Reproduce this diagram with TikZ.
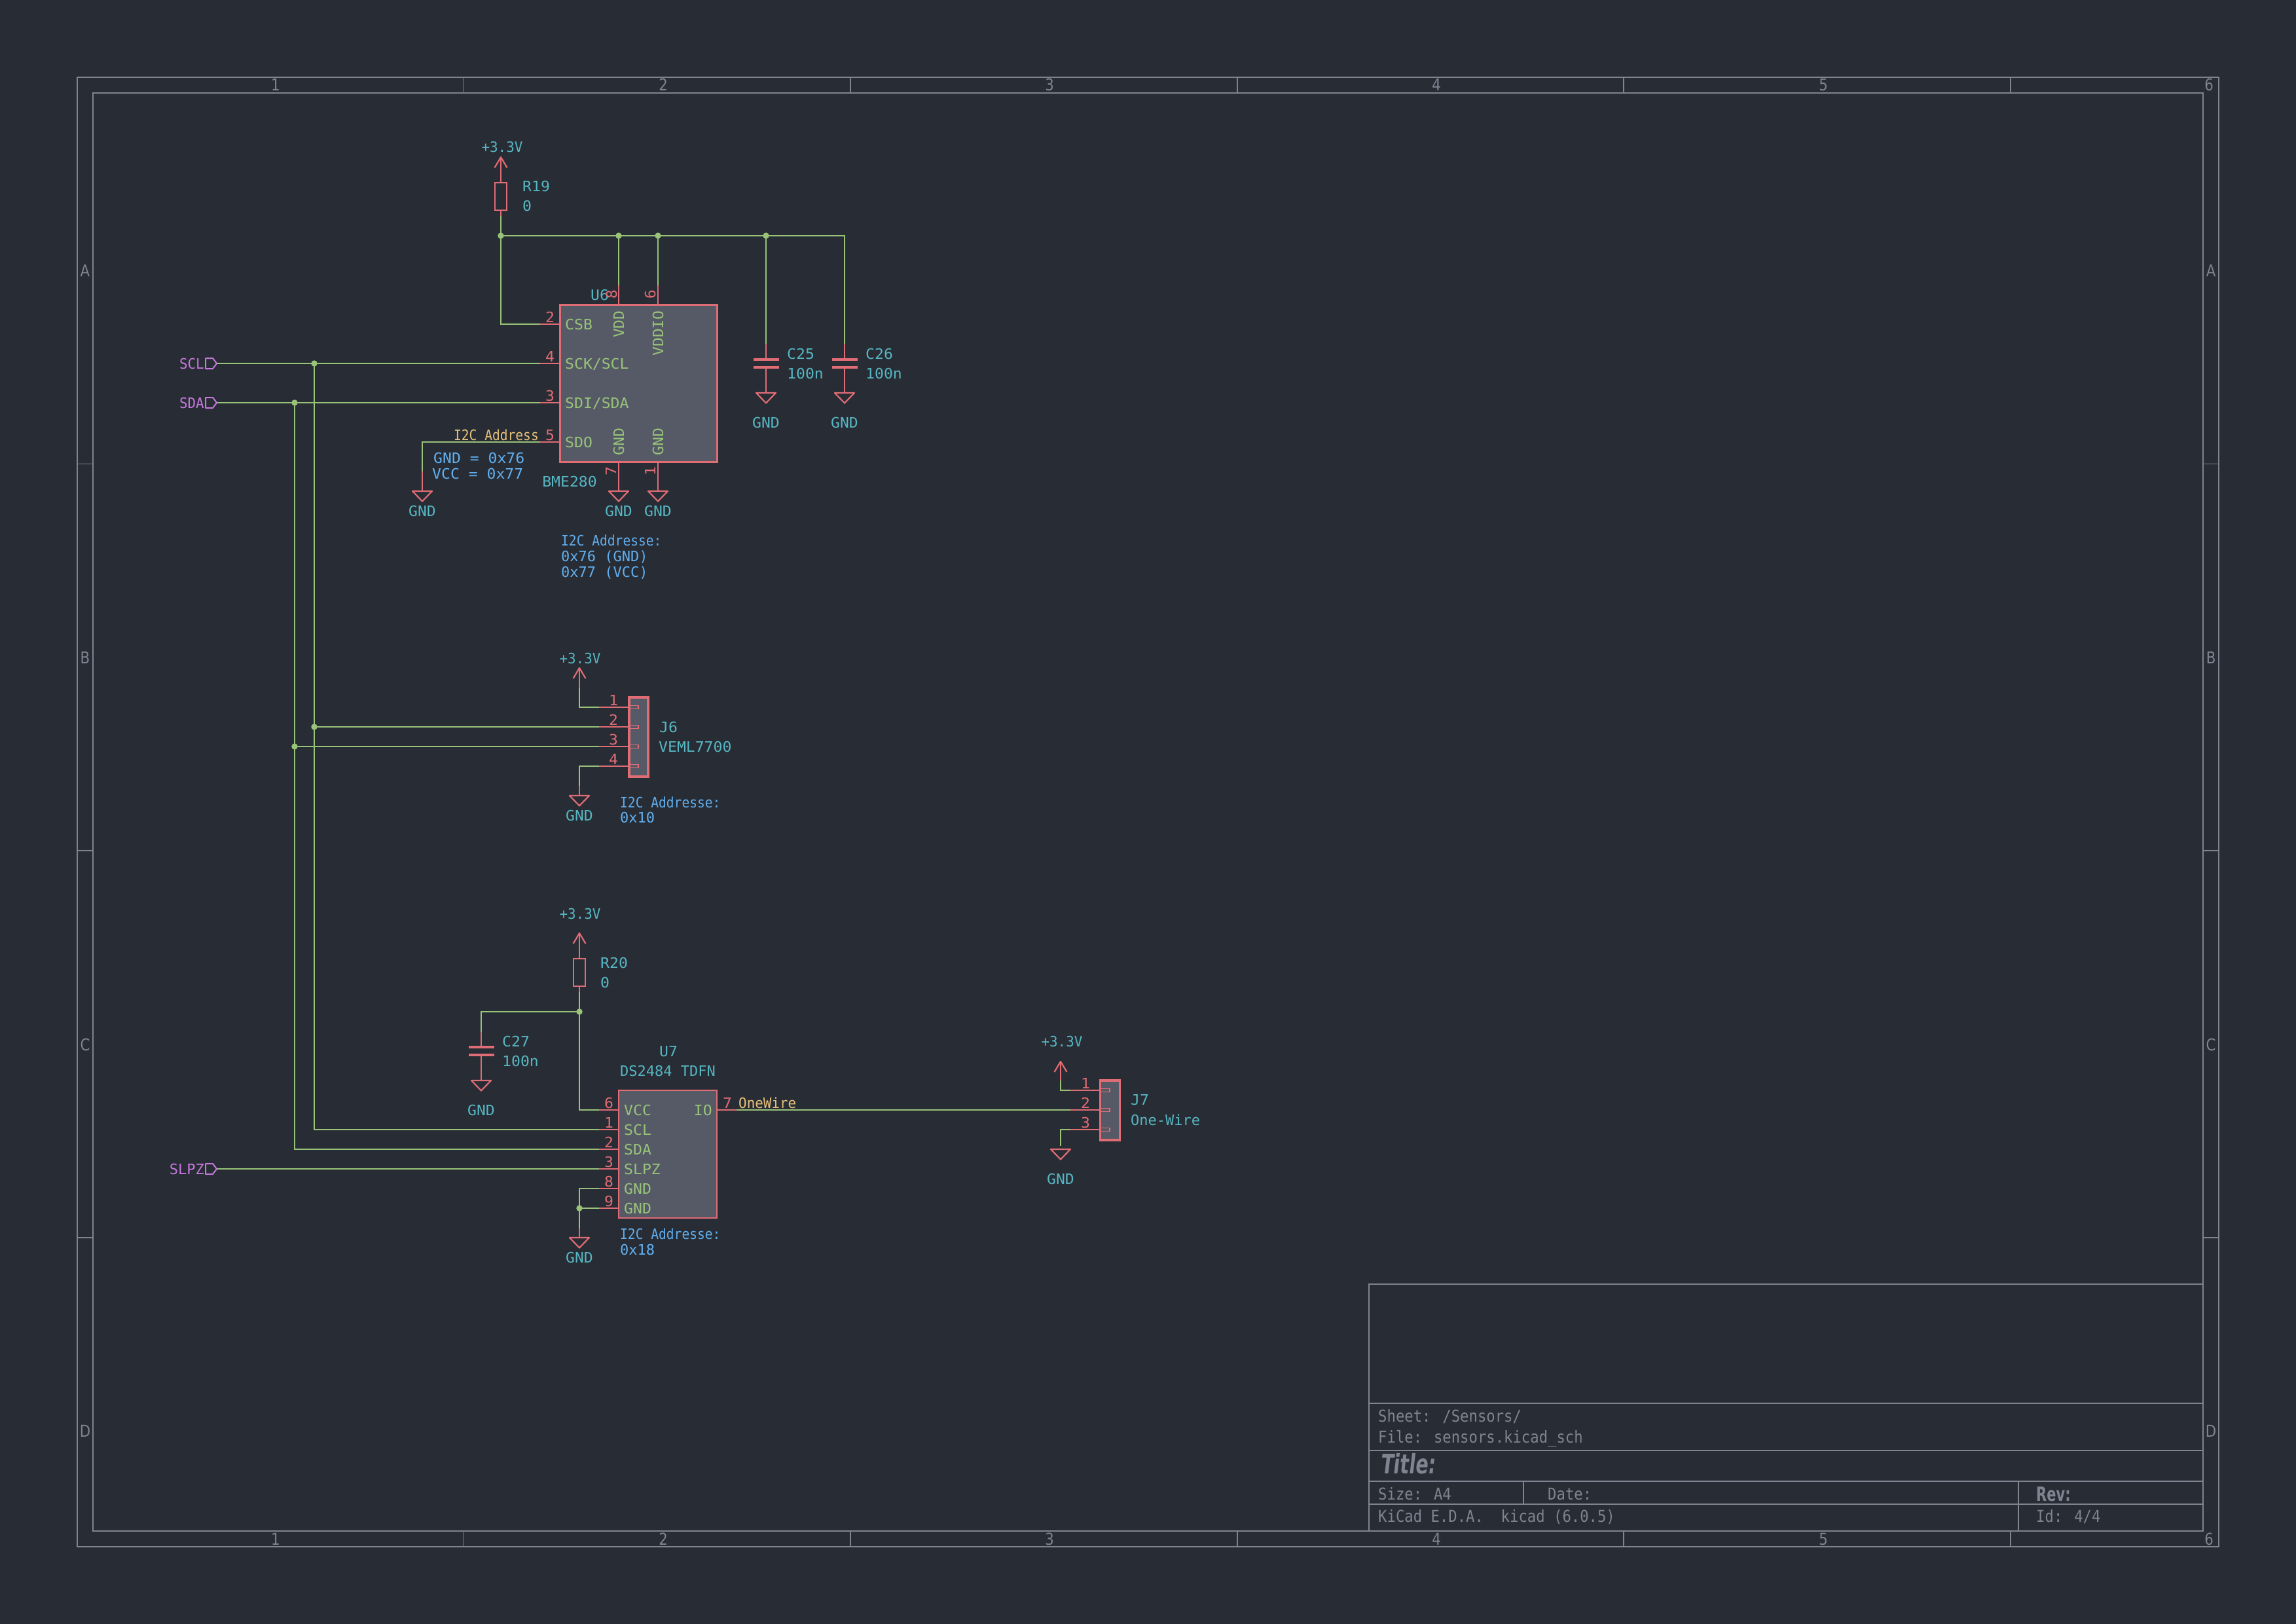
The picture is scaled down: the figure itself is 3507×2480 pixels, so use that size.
\documentclass[tikz,border=0pt]{standalone}
\usepackage{fontspec}
\setmainfont{DejaVu Sans}
\newfontface\schfont[FakeStretch=1.05]{DejaVu Sans Mono}
\newfontface\schnarrow[FakeStretch=0.95]{DejaVu Sans Mono}
\newfontface\schnote[FakeStretch=1.0]{DejaVu Sans Mono}
\newfontface\schtight[FakeStretch=0.89]{DejaVu Sans Mono}
\newfontface\tbfont[FakeStretch=0.89]{DejaVu Sans Mono}
\newfontface\tbnum[FakeStretch=0.85]{DejaVu Sans}
\newfontface\tbbold[FakeStretch=0.7]{DejaVu Sans Bold}
\newfontface\tbtitle[FakeStretch=0.7,FakeSlant=0.12]{DejaVu Sans Bold}
\definecolor{bg}{HTML}{282C34}
\definecolor{frm}{HTML}{7F8491}
\definecolor{pinred}{HTML}{E06C75}
\definecolor{wirecol}{HTML}{98C379}
\definecolor{refcol}{HTML}{56B6C2}
\definecolor{notecol}{HTML}{61AFEF}
\definecolor{hiercol}{HTML}{C678DD}
\definecolor{netcol}{HTML}{E5C07B}
\definecolor{bodyfill}{HTML}{565A66}
\tikzset{
  x=1pt,y=-1pt,
  lab/.style={inner sep=0pt,text height=16pt,text depth=0pt,font=\fontsize{22}{24}\selectfont\schfont},
  labn/.style={font=\fontsize{22}{24}\selectfont\schnarrow},
  labm/.style={font=\fontsize{22}{24}\selectfont\schnote},
  labt/.style={font=\fontsize{22}{24}\selectfont\schtight},
  reft/.style={lab,text=refcol},
  pint/.style={lab,text=pinred},
  namet/.style={lab,text=wirecol},
  notet/.style={lab,text=notecol},
  hiert/.style={lab,labn,text=hiercol},
  nett/.style={lab,labn,text=netcol},
  frmt/.style={inner sep=0pt,text height=18pt,text depth=0pt,text=frm,font=\fontsize{25}{28}\selectfont\tbfont},
  frmb/.style={inner sep=0pt,text height=22pt,text depth=0pt,text=frm,font=\fontsize{30}{34}\selectfont\tbbold},
  frmh/.style={inner sep=0pt,text height=30pt,text depth=0pt,text=frm,font=\fontsize{41}{44}\selectfont\tbtitle},
  frmn/.style={inner sep=0pt,text height=18pt,text depth=0pt,text=frm,font=\fontsize{25}{28}\selectfont\tbnum},
  frame/.style={draw=frm,line width=1.6pt},
  wire/.style={draw=wirecol,line width=2pt},
  pinl/.style={draw=pinred,line width=2pt},
  sym/.style={draw=pinred,line width=2.2pt},
  icbox/.style={draw=pinred,fill=bodyfill,line width=3pt,inner sep=0pt},
  jbox/.style={draw=pinred,fill=bodyfill,line width=3.6pt,inner sep=0pt},
  resbox/.style={draw=pinred,line width=2.4pt,inner sep=0pt,minimum width=18pt},
  junc/.style={circle,fill=wirecol,inner sep=0pt,minimum size=9.5pt},
  plate/.style={draw=pinred,line width=4.4pt},
}
\newcommand{\pwrsym}[3]{% name, x, tip y
  \coordinate (#1) at (#2,#3);
  \draw[sym,line join=round] (#2-9.5,#3+16) -- (#1) -- (#2+9.5,#3+16);}
\newcommand{\gndsym}[3]{% name, x, top y
  \coordinate (#1) at (#2,#3);
  \draw[sym,line join=round] (#2-15,#3) -- (#2+15,#3) -- (#2,#3+15.5) -- cycle;}
\newcommand{\hierflag}[2]{% tip x, y
  \draw[draw=hiercol,line width=2pt,line join=round] (#1-17,#2-8) -- (#1-6,#2-8) -- (#1,#2) -- (#1-6,#2+8) -- (#1-17,#2+8) -- cycle;}
\newcommand{\conpin}[2]{% stub of a connector pin: box left x, y
  \draw[draw=pinred,line width=1.3pt] (#1,#2-2.3) rectangle (#1+14,#2+2.3);}
\begin{document}
\begin{tikzpicture}
\useasboundingbox (0,0) rectangle (3507,2480);
\fill[bg] (0,0) rectangle (3507,2480);

% ---------- sheet frame
\draw[frame] (118,118) rectangle (3389,2362);
\draw[frame] (142,142) rectangle (3365,2338);
\foreach \xx in {708.6,1299,1889.8,2480,3071}{
  \draw[frame] (\xx,118) -- (\xx,142);
  \draw[frame] (\xx,2338) -- (\xx,2362);}
\foreach \yy in {708.6,1299,1889.8}{
  \draw[frame] (118,\yy) -- (142,\yy);
  \draw[frame] (3365,\yy) -- (3389,\yy);}
\foreach \xx/\tt/\nm in {421/1/a,1013/2/b,1603/3/c,2194/4/d,2785/5/e,3374/6/f}{
  \node[frmn] (ct\nm) at (\xx,130) {\tt};
  \node[frmn] (cb\nm) at (\xx,2350) {\tt};}
\foreach \yy/\tt in {413/A,1004/B,1595/C,2185/D}{
  \node[frmn] (rl\tt) at (130,\yy) {\tt};
  \node[frmn] (rr\tt) at (3377,\yy) {\tt};}

% ---------- title block
\draw[frame] (2091,2338) -- (2091,1961) -- (3365,1961);
\draw[frame] (2091,2143) -- (3365,2143);
\draw[frame] (2091,2215) -- (3365,2215);
\draw[frame] (2091,2262) -- (3365,2262);
\draw[frame] (2091,2297) -- (3365,2297);
\draw[frame] (2327,2262) -- (2327,2297);
\draw[frame] (3083,2262) -- (3083,2338);
\node[frmt,anchor=west] (tbsheet) at (2105,2162) {Sheet: /Sensors/};
\node[frmt,anchor=west] (tbfile) at (2105,2194) {File: sensors.kicad\_sch};
\node[frmh,anchor=west] (tbtitle) at (2108,2235) {Title:};
\node[frmt,anchor=west] (tbsize) at (2105,2281) {Size: A4};
\node[frmt,anchor=west] (tbdate) at (2364,2281) {Date:};
\node[frmb,anchor=west] (tbrev) at (3110,2281) {Rev:};
\node[frmt,anchor=west] (tbkicad) at (2105,2315) {KiCad E.D.A.\ \ kicad (6.0.5)};
\node[frmt,anchor=west] (tbid) at (3110,2315) {Id: 4/4};

% ---------- named points
\coordinate (wR19top) at (765,330);
\coordinate (jA) at (765,360);
\coordinate (jB) at (945,360);
\coordinate (jC) at (1005,360);
\coordinate (jD) at (1170,360);
\coordinate (cr26) at (1290,360);
\coordinate (u6p2) at (825,495);
\coordinate (csbc) at (765,495);
\coordinate (u6p8) at (945,436);
\coordinate (u6p6) at (1005,436);
\coordinate (c25t) at (1170,525);
\coordinate (c26t) at (1290,525);
\coordinate (sclstart) at (331,555);
\coordinate (sdastart) at (331,615);
\coordinate (slpstart) at (331,1785);
\coordinate (jscl) at (480,555);
\coordinate (jsda) at (450,615);
\coordinate (u6p4) at (825,555);
\coordinate (u6p3) at (825,615);
\coordinate (u6p5) at (825,675);
\coordinate (sdoc) at (645,675);
\coordinate (sdoe) at (645,720);
\coordinate (jscl2) at (480,1110);
\coordinate (jsda2) at (450,1140);
\coordinate (j6p1) at (915,1080);
\coordinate (j6p2) at (915,1110);
\coordinate (j6p3) at (915,1140);
\coordinate (j6p4) at (915,1170);
\coordinate (j6c1) at (885,1080);
\coordinate (j6c4) at (885,1170);
\coordinate (j6up) at (885,1050);
\coordinate (j6dn) at (885,1200);
\coordinate (r20b) at (885,1515);
\coordinate (jR20) at (885,1545);
\coordinate (c27c) at (735,1545);
\coordinate (c27t) at (735,1576);
\coordinate (u7p6) at (915,1695);
\coordinate (u7c6) at (885,1695);
\coordinate (u7p1) at (915,1725);
\coordinate (u7c1) at (480,1725);
\coordinate (u7p2) at (915,1755);
\coordinate (u7c2) at (450,1755);
\coordinate (u7p3) at (915,1785);
\coordinate (u7p8) at (915,1815);
\coordinate (u7c8) at (885,1815);
\coordinate (u7p9) at (915,1845);
\coordinate (jG) at (885,1845);
\coordinate (u7g) at (885,1876);
\coordinate (u7p7) at (1125,1695);
\coordinate (j7p1) at (1635,1665);
\coordinate (j7c1) at (1620,1665);
\coordinate (j7up) at (1620,1650);
\coordinate (j7p2) at (1635,1695);
\coordinate (j7p3) at (1635,1725);
\coordinate (j7c3) at (1620,1725);
\coordinate (j7dn) at (1620,1750);

% ---------- component bodies
\node[icbox,minimum width=240pt,minimum height=240pt] (u6) at (975,585) {};
\node[icbox,line width=2.4pt,minimum width=150pt,minimum height=195pt] (u7) at (1020,1762.5) {};
\node[jbox,minimum width=29pt,minimum height=121pt] (j6) at (975.5,1125.5) {};
\node[jbox,minimum width=30pt,minimum height=91pt] (j7) at (1695.5,1695.5) {};
\node[resbox,minimum height=42pt] (r19) at (765,300) {};
\node[resbox,minimum height=42pt] (r20) at (885,1485) {};

% ---------- power and ground symbols
\pwrsym{pR19}{765}{240}
\pwrsym{pJ6}{885}{1020}
\pwrsym{pR20}{885}{1425}
\pwrsym{pJ7}{1620}{1621}
\gndsym{gSDO}{645}{750}
\gndsym{gU6a}{945}{750}
\gndsym{gU6b}{1005}{750}
\gndsym{gC25}{1170}{600}
\gndsym{gC26}{1290}{600}
\gndsym{gJ6}{885}{1215}
\gndsym{gC27}{735}{1650}
\gndsym{gU7}{885}{1890}
\gndsym{gJ7}{1620}{1755}

% ---------- pins and symbol stems
\draw[pinl] (pR19) -- (r19.north);
\draw[pinl] (r19.south) -- (wR19top);
\draw[pinl] (pR20) -- (r20.north);
\draw[pinl] (r20.south) -- (r20b);
\draw[pinl] (pJ6) -- (j6up);
\draw[pinl] (pJ7) -- (j7up);
\draw[pinl] (u6p2) -- (u6p2-|u6.west);
\draw[pinl] (u6p4) -- (u6p4-|u6.west);
\draw[pinl] (u6p3) -- (u6p3-|u6.west);
\draw[pinl] (u6p5) -- (u6p5-|u6.west);
\draw[pinl] (u6p8) -- (u6p8|-u6.north);
\draw[pinl] (u6p6) -- (u6p6|-u6.north);
\draw[pinl] (gU6a) -- (gU6a|-u6.south);
\draw[pinl] (gU6b) -- (gU6b|-u6.south);
\draw[pinl] (sdoe) -- (gSDO);
\draw[pinl] (c25t) -- (1170,549);
\draw[pinl] (1170,561) -- (gC25);
\draw[pinl] (c26t) -- (1290,549);
\draw[pinl] (1290,561) -- (gC26);
\draw[plate] (1150.5,549) -- (1189.5,549);
\draw[plate] (1150.5,561) -- (1189.5,561);
\draw[plate] (1270.5,549) -- (1309.5,549);
\draw[plate] (1270.5,561) -- (1309.5,561);
\draw[pinl] (c27t) -- (735,1599);
\draw[pinl] (735,1611) -- (gC27);
\draw[plate] (715.5,1599) -- (754.5,1599);
\draw[plate] (715.5,1611) -- (754.5,1611);
\draw[pinl] (j6dn) -- (gJ6);
\draw[pinl] (u7g) -- (gU7);
\draw[pinl] (j6p1) -- (j6p1-|j6.west);
\draw[pinl] (j6p2) -- (j6p2-|j6.west);
\draw[pinl] (j6p3) -- (j6p3-|j6.west);
\draw[pinl] (j6p4) -- (j6p4-|j6.west);
\conpin{961}{1080}\conpin{961}{1110}\conpin{961}{1140}\conpin{961}{1170}
\draw[pinl] (j7p1) -- (j7p1-|j7.west);
\draw[pinl] (j7p2) -- (j7p2-|j7.west);
\draw[pinl] (j7p3) -- (j7p3-|j7.west);
\conpin{1681}{1665}\conpin{1681}{1695}\conpin{1681}{1725}
\draw[pinl] (u7p6) -- (u7p6-|u7.west);
\draw[pinl] (u7p1) -- (u7p1-|u7.west);
\draw[pinl] (u7p2) -- (u7p2-|u7.west);
\draw[pinl] (u7p3) -- (u7p3-|u7.west);
\draw[pinl] (u7p8) -- (u7p8-|u7.west);
\draw[pinl] (u7p9) -- (u7p9-|u7.west);
\draw[pinl] (u7p7) -- (u7p7-|u7.east);

% ---------- wires
\draw[wire] (wR19top) -- (jA) -- (jB) -- (jC) -- (jD) -- (cr26) -- (c26t);
\draw[wire] (jA) -- (csbc) -- (u6p2);
\draw[wire] (jB) -- (u6p8);
\draw[wire] (jC) -- (u6p6);
\draw[wire] (jD) -- (c25t);
\draw[wire] (sclstart) -- (u6p4);
\draw[wire] (sdastart) -- (u6p3);
\draw[wire] (u6p5) -- (sdoc) -- (sdoe);
\draw[wire] (jscl) -- (u7c1) -- (u7p1);
\draw[wire] (jsda) -- (u7c2) -- (u7p2);
\draw[wire] (jscl2) -- (j6p2);
\draw[wire] (jsda2) -- (j6p3);
\draw[wire] (j6up) -- (j6c1) -- (j6p1);
\draw[wire] (j6p4) -- (j6c4) -- (j6dn);
\draw[wire] (r20b) -- (u7c6) -- (u7p6);
\draw[wire] (jR20) -- (c27c) -- (c27t);
\draw[wire] (slpstart) -- (u7p3);
\draw[wire] (u7p8) -- (u7c8) -- (u7g);
\draw[wire] (jG) -- (u7p9);
\draw[wire] (u7p7) -- (j7p2);
\draw[wire] (j7up) -- (j7c1) -- (j7p1);
\draw[wire] (j7p3) -- (j7c3) -- (j7dn);

% ---------- junction dots
\node[junc] (dA) at (jA) {};
\node[junc] (dB) at (jB) {};
\node[junc] (dC) at (jC) {};
\node[junc] (dD) at (jD) {};
\node[junc] (dS1) at (jscl) {};
\node[junc] (dS2) at (jsda) {};
\node[junc] (dS3) at (jscl2) {};
\node[junc] (dS4) at (jsda2) {};
\node[junc] (dR) at (jR20) {};
\node[junc] (dG) at (jG) {};

% ---------- hierarchical labels
\hierflag{331}{555}
\hierflag{331}{615}
\hierflag{331}{1785}
\node[hiert,anchor=east] (hSCL) at (312,555) {SCL};
\node[hiert,anchor=east] (hSDA) at (312,615) {SDA};
\node[hiert,labm,anchor=east] (hSLPZ) at (312,1785) {SLPZ};

% ---------- power labels
\node[reft,labn] (l33a) at (767,225) {+3.3V};
\node[reft,labn] (l33b) at (886,1005) {+3.3V};
\node[reft,labn] (l33c) at (886,1395) {+3.3V};
\node[reft,labn] (l33d) at (1622,1590) {+3.3V};
\node[reft] (lgSDO) at (645,780) {GND};
\node[reft] (lgU6a) at (945,780) {GND};
\node[reft] (lgU6b) at (1005,780) {GND};
\node[reft] (lgC25) at (1170,645) {GND};
\node[reft] (lgC26) at (1290,645) {GND};
\node[reft] (lgJ6) at (885,1245) {GND};
\node[reft] (lgC27) at (735,1695) {GND};
\node[reft] (lgU7) at (885,1920) {GND};
\node[reft] (lgJ7) at (1620,1800) {GND};

% ---------- references and values
\node[reft,anchor=west] (tR19) at (798,285) {R19};
\node[reft,anchor=west] (vR19) at (798,315) {0};
\node[reft,anchor=west] (tR20) at (917,1470) {R20};
\node[reft,anchor=west] (vR20) at (917,1500) {0};
\node[reft,anchor=west] (tC25) at (1202,540) {C25};
\node[reft,anchor=west] (vC25) at (1202,570) {100n};
\node[reft,anchor=west] (tC26) at (1322,540) {C26};
\node[reft,anchor=west] (vC26) at (1322,570) {100n};
\node[reft,anchor=west] (tC27) at (767,1590) {C27};
\node[reft,anchor=west] (vC27) at (767,1620) {100n};
\node[reft] (tU6) at (916,450) {U6};
\node[reft] (vU6) at (870,735) {BME280};
\node[reft] (tU7) at (1021,1605) {U7};
\node[reft,labm] (vU7) at (1020,1635) {DS2484 TDFN};
\node[reft,anchor=west] (tJ6) at (1007,1110) {J6};
\node[reft,anchor=west] (vJ6) at (1006,1140) {VEML7700};
\node[reft,anchor=west] (tJ7) at (1727,1679) {J7};
\node[reft,labm,anchor=west] (vJ7) at (1727,1710) {One-Wire};

% ---------- pin names
\node[namet,anchor=west] (nCSB) at (863,495) {CSB};
\node[namet,anchor=west] (nSCK) at (863,555) {SCK/SCL};
\node[namet,anchor=west] (nSDI) at (863,615) {SDI/SDA};
\node[namet,anchor=west] (nSDO) at (863,675) {SDO};
\node[namet,rotate=90,anchor=east] (nVDD) at (945,474) {VDD};
\node[namet,rotate=90,anchor=east] (nVDDIO) at (1005,474) {VDDIO};
\node[namet,rotate=90,anchor=west] (nG7) at (945,696) {GND};
\node[namet,rotate=90,anchor=west] (nG1) at (1005,696) {GND};
\node[namet,anchor=west] (nVCC) at (953,1695) {VCC};
\node[namet,anchor=west] (nSCL) at (953,1725) {SCL};
\node[namet,anchor=west] (nSDA) at (953,1755) {SDA};
\node[namet,anchor=west] (nSLPZ) at (953,1785) {SLPZ};
\node[namet,anchor=west] (nG8) at (953,1815) {GND};
\node[namet,anchor=west] (nG9) at (953,1845) {GND};
\node[namet,anchor=east] (nIO) at (1088,1695) {IO};

% ---------- pin numbers
\node[pint] (n2) at (840,484) {2};
\node[pint] (n4) at (840,544) {4};
\node[pint] (n3) at (840,604) {3};
\node[pint] (n5) at (840,664) {5};
\node[pint,rotate=90] (n8) at (934,450) {8};
\node[pint,rotate=90] (n6) at (993,450) {6};
\node[pint,rotate=90] (n7) at (933,720) {7};
\node[pint,rotate=90] (n1) at (993,720) {1};
\node[pint] (j61) at (937,1069) {1};
\node[pint] (j62) at (937,1099) {2};
\node[pint] (j63) at (937,1129) {3};
\node[pint] (j64) at (937,1159) {4};
\node[pint] (u76) at (930,1684) {6};
\node[pint] (u71) at (930,1714) {1};
\node[pint] (u72) at (930,1744) {2};
\node[pint] (u73) at (930,1774) {3};
\node[pint] (u78) at (930,1804) {8};
\node[pint] (u79) at (930,1834) {9};
\node[pint] (u77) at (1111,1684) {7};
\node[pint] (j71) at (1658,1654) {1};
\node[pint] (j72) at (1658,1684) {2};
\node[pint] (j73) at (1658,1714) {3};

% ---------- net labels
\node[nett,labt,anchor=east] (netI2C) at (823,664) {I2C Address};
\node[nett,anchor=west] (netOW) at (1128,1684) {OneWire};

% ---------- notes
\node[notet,anchor=west] (n1a) at (662,699) {GND = 0x76};
\node[notet,anchor=west] (n1b) at (660,723) {VCC = 0x77};
\node[notet,labt,anchor=west] (n2a) at (857,825) {I2C Addresse:};
\node[notet,labm,anchor=west] (n2b) at (857,849) {0x76 (GND)};
\node[notet,labm,anchor=west] (n2c) at (857,873) {0x77 (VCC)};
\node[notet,labt,anchor=west] (n3a) at (947,1225) {I2C Addresse:};
\node[notet,labm,anchor=west] (n3b) at (947,1248) {0x10};
\node[notet,labt,anchor=west] (n4a) at (947,1884) {I2C Addresse:};
\node[notet,labm,anchor=west] (n4b) at (947,1908) {0x18};
\end{tikzpicture}
\end{document}
